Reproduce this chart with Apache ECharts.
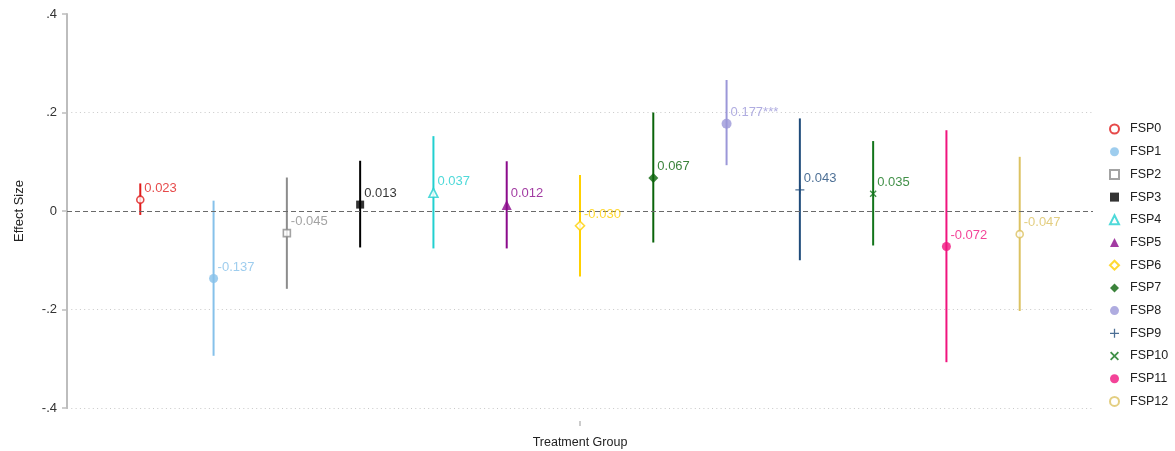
<!DOCTYPE html>
<html>
<head>
<meta charset="utf-8">
<script src="https://cdn.jsdelivr.net/npm/echarts@6/dist/echarts.min.js"></script>
<style>
  html, body { margin: 0; padding: 0; background: #fff; }
  #chart { width: 1175px; height: 451px; }
</style>
</head>
<body>
<div id="chart"></div>
<script>
// Treatment groups, point estimates and 95% confidence bounds
const categories = ['FSP0', 'FSP1', 'FSP2', 'FSP3', 'FSP4', 'FSP5', 'FSP6', 'FSP7', 'FSP8', 'FSP9', 'FSP10', 'FSP11', 'FSP12'];
const estimates  = [0.023, -0.137, -0.045, 0.013, 0.037, 0.012, -0.030, 0.067, 0.177, 0.043, 0.035, -0.072, -0.047];
const ciLower    = [-0.008, -0.294, -0.158, -0.074, -0.076, -0.076, -0.133, -0.064, 0.093, -0.100, -0.070, -0.307, -0.203];
const ciUpper    = [0.056, 0.021, 0.068, 0.102, 0.152, 0.101, 0.073, 0.200, 0.266, 0.188, 0.142, 0.164, 0.110];
const stars      = ['', '', '', '', '', '', '', '', '***', '', '', '', ''];
const yTicks     = [-0.4, -0.2, 0, 0.2, 0.4];
const yTickText  = ['-.4', '-.2', '0', '.2', '.4'];
const xAxisTitle = 'Treatment Group';
const yAxisTitle = 'Effect Size';

const FONT = '"Liberation Sans", Arial, sans-serif';

const PLUS = 'path://M0,4.3H10V5.7H0Z M4.3,0H5.7V10H4.3Z';
const CROSS = 'path://M0,1.4L1.4,0L10,8.6L8.6,10Z M8.6,0L10,1.4L1.4,10L0,8.6Z';

// marker style for each group: colour, symbol, size, hollow
const styles = [
  { color: '#e01b1b', symbol: 'circle',   size: 7,  hollow: true  },
  { color: '#86c1ea', symbol: 'circle',   size: 9,  hollow: false },
  { color: '#8c8c8c', symbol: 'rect',     size: 7,  hollow: true  },
  { color: '#000000', symbol: 'rect',     size: 8,  hollow: false },
  { color: '#22d0d0', symbol: 'triangle', size: 9,  hollow: true  },
  { color: '#8b0a8b', symbol: 'triangle', size: 10, hollow: false },
  { color: '#ffd000', symbol: 'diamond',  size: 9,  hollow: true  },
  { color: '#0a640a', symbol: 'diamond',  size: 10, hollow: false },
  { color: '#9b97d8', symbol: 'circle',   size: 10, hollow: false },
  { color: '#1f4b7a', symbol: PLUS,       size: 9,  hollow: false },
  { color: '#12741a', symbol: CROSS,      size: 7,  hollow: false },
  { color: '#f0147e', symbol: 'circle',   size: 9,  hollow: false },
  { color: '#dcc262', symbol: 'circle',   size: 7,  hollow: true  }
];

const series = [];

// dashed reference line at zero
series.push({
  name: '__zero',
  type: 'line',
  data: [],
  z: 1,
  markLine: {
    silent: true,
    symbol: 'none',
    label: { show: false },
    lineStyle: { color: '#6a6a6a', type: [5, 3], width: 1.2 },
    data: [{ yAxis: 0 }]
  }
});

categories.forEach((name, i) => {
  const st = styles[i];
  series.push({
    name: name,
    type: 'scatter',
    z: 5,
    symbol: st.symbol,
    symbolSize: st.size,
    itemStyle: st.hollow
      ? { color: '#ffffff', borderColor: st.color, borderWidth: 1.6 }
      : { color: st.color },
    label: {
      show: true,
      position: 'inside',
      align: 'left',
      verticalAlign: 'middle',
      offset: [4, -11.5],
      color: st.color,
      fontFamily: FONT,
      fontSize: 13,
      formatter: () => estimates[i].toFixed(3) + stars[i]
    },
    emphasis: { disabled: true },
    data: [[i + 1, estimates[i]]]
  });
});

categories.forEach((name, i) => {
  const st = styles[i];
  series.push({
    name: name,
    type: 'custom',
    z: 3,
    silent: true,
    encode: { x: 0, y: [1, 2] },
    renderItem: (params, api) => {
      const top = api.coord([api.value(0), api.value(2)]);
      const bot = api.coord([api.value(0), api.value(1)]);
      return {
        type: 'line',
        shape: { x1: top[0], y1: top[1], x2: bot[0], y2: bot[1] },
        style: { stroke: st.color, lineWidth: 2 }
      };
    },
    data: [[i + 1, ciLower[i], ciUpper[i]]]
  });
});

const midX = (categories.length + 1) / 2;

const chart = echarts.init(document.getElementById('chart'), null, { renderer: 'canvas' });
chart.setOption({
  animation: false,
  backgroundColor: '#ffffff',
  textStyle: { fontFamily: FONT },
  grid: { left: 67, right: 82, top: 14, bottom: 43, containLabel: false },
  legend: {
    orient: 'vertical',
    left: 1104,
    top: 117,
    itemWidth: 9,
    itemHeight: 9,
    itemGap: 8.7,
    data: categories,
    textStyle: { color: '#222', fontSize: 12.5, fontFamily: FONT, lineHeight: 14, padding: [0, 0, 0, 6] },
    selectedMode: true
  },
  xAxis: {
    type: 'value',
    min: 0,
    max: categories.length + 1,
    offset: 13,
    axisLine: { show: false },
    splitLine: { show: false },
    axisTick: { show: false },
    // single centred tick mark drawn above the axis title
    axisLabel: {
      customValues: [midX],
      formatter: () => '{tick|}\n{title|' + xAxisTitle + '}',
      margin: 0,
      rich: {
        tick: { width: 1, height: 5, backgroundColor: '#9a9a9a', lineHeight: 5 },
        title: { color: '#222', fontSize: 12.5, fontFamily: FONT, lineHeight: 14, padding: [20, 0, 0, 0] }
      }
    }
  },
  yAxis: {
    type: 'value',
    min: yTicks[0],
    max: yTicks[yTicks.length - 1],
    interval: 0.2,
    name: yAxisTitle,
    nameLocation: 'middle',
    nameRotate: 90,
    nameGap: 41,
    nameTextStyle: { color: '#222', fontSize: 13, fontFamily: FONT },
    axisLine: { show: true, lineStyle: { color: '#bdbdbd', width: 2 } },
    axisTick: { show: true, length: 5, lineStyle: { color: '#bdbdbd', width: 1.5 } },
    axisLabel: {
      color: '#333',
      fontSize: 13,
      fontFamily: FONT,
      margin: 10,
      formatter: v => {
        const k = yTicks.findIndex(t => Math.abs(t - v) < 1e-9);
        return k >= 0 ? yTickText[k] : '';
      }
    },
    splitLine: {
      show: true,
      lineStyle: {
        color: ['#c8c8c8', '#c8c8c8', 'rgba(0,0,0,0)', '#c8c8c8', 'rgba(0,0,0,0)'],
        type: [1, 3.3],
        width: 1
      }
    }
  },
  series: series
});
</script>
</body>
</html>
